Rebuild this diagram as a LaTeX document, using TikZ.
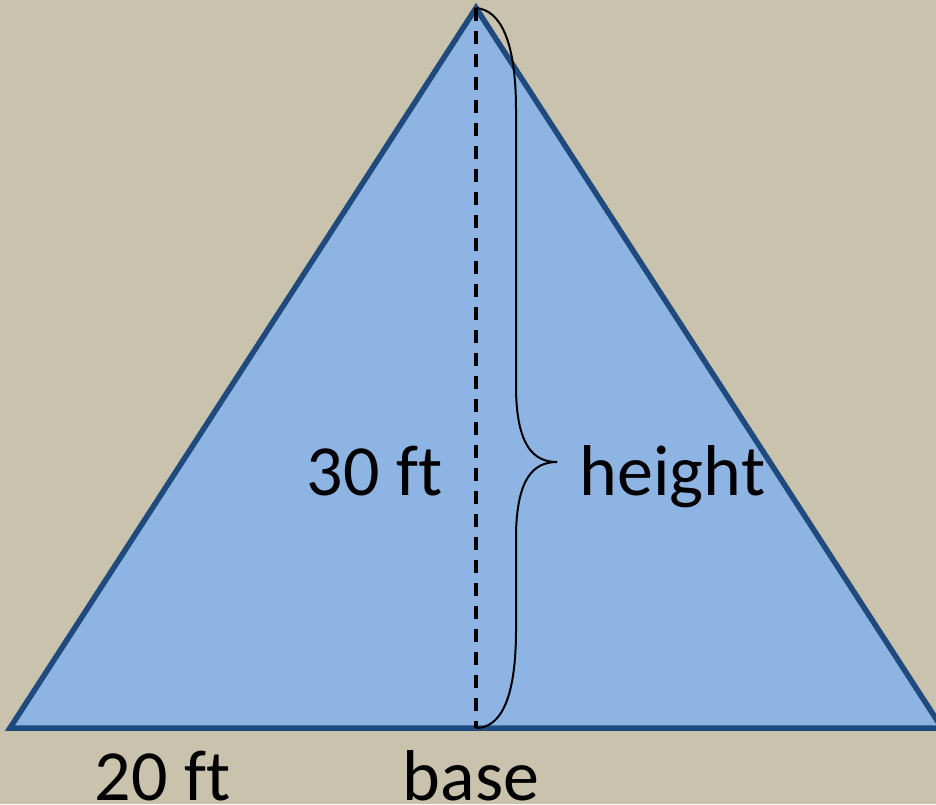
\documentclass[tikz,border=0pt]{standalone}
\usepackage{fontspec}
\setmainfont[Ligatures=NoCommon]{Carlito}
\definecolor{bgc}{HTML}{C9C2AC}
\definecolor{trifill}{HTML}{8EB4E3}
\definecolor{tridraw}{HTML}{1F4A7E}
\tikzset{
  lbl/.style={font=\fontsize{72}{86}\selectfont, text=black, inner sep=0pt, anchor=base},
  tri/.style={fill=trifill, draw=tridraw, line width=5.5pt, line join=miter},
  heightline/.style={draw=black, line width=3.4pt, dash pattern=on 13pt off 10pt},
  bracestyle/.style={draw=black, line width=2pt}
}
\begin{document}
\begin{tikzpicture}[x=1pt,y=-1pt]
\fill[bgc] (0,0) rectangle (936,804);
\useasboundingbox (0,0) rectangle (936,804);
\coordinate (A) at (476,8);
\coordinate (L) at (10,728);
\coordinate (R) at (942,728);
\coordinate (F) at (476,728);
\coordinate (T) at (557,462);
\path[tri] (A) -- (L) -- (R) -- cycle;
\draw[heightline] (A) -- (F);
\draw[bracestyle] (A) .. controls (500,10) and (516,40) .. (516,110) -- (516,390)
  .. controls (517,445) and (533,462) .. (T)
  .. controls (533,462) and (517,479) .. (516,534) -- (516,630)
  .. controls (516,700) and (500,728) .. (F);
\node[lbl] (h30) at (374.5,495) {30 f{}t};
\node[lbl] (hl) at (672.5,495) {height};
\node[lbl] (b20) at (162.5,800) {20 f{}t};
\node[lbl] (bl) at (471,800) {base};
\end{tikzpicture}
\end{document}
